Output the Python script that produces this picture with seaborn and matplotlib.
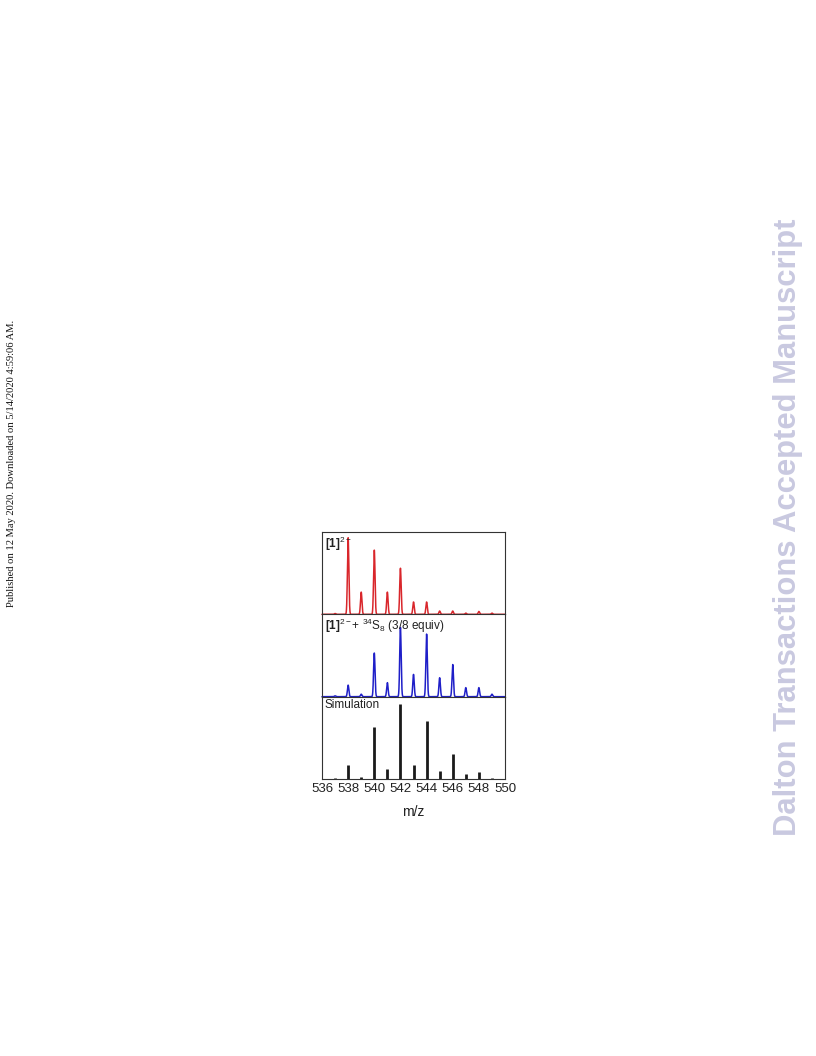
import numpy as np
import pandas as pd
import matplotlib
matplotlib.use('Agg')
import matplotlib.pyplot as plt
import seaborn as sns

# peak positions (m/z) and relative heights
mz = [537, 538, 539, 540, 541, 542, 543, 544, 545, 546, 547, 548, 549]
exp_red = [0.01, 0.93, 0.27, 0.78, 0.27, 0.56, 0.15, 0.15, 0.04, 0.04, 0.015, 0.035, 0.015]
exp_blue = [0.01, 0.14, 0.03, 0.53, 0.17, 0.84, 0.27, 0.76, 0.23, 0.39, 0.11, 0.11, 0.03]
sim_black = [0.01, 0.17, 0.03, 0.63, 0.12, 0.91, 0.17, 0.71, 0.10, 0.30, 0.06, 0.08, 0.01]

xticks = [536, 538, 540, 542, 544, 546, 548, 550]
labels = [r'$\mathbf{[1]}^{2-}$',
          r'$\mathbf{[1]}^{2-}$+ $^{34}$S$_8$ (3/8 equiv)',
          'Simulation']

sns.set_style('white')
plt.rcParams['font.family'] = ['Liberation Sans', 'DejaVu Sans']
plt.rcParams['mathtext.fontset'] = 'custom'
plt.rcParams['mathtext.rm'] = 'Liberation Sans'
plt.rcParams['mathtext.it'] = 'Liberation Sans:italic'
plt.rcParams['mathtext.bf'] = 'Liberation Sans:bold'


def profile(centers, heights, width=0.055):
    # build a line spectrum from the peak list (narrow peak shape)
    x = np.linspace(536, 550, 2801)
    y = np.zeros_like(x)
    for c, h in zip(centers, heights):
        y += h * np.exp(-0.5 * ((x - c) / width) ** 2)
    return pd.DataFrame({'mz': x, 'I': y})


fig, axes = plt.subplots(3, 1, figsize=(8.16, 10.56), dpi=100, sharex=True)
fig.subplots_adjust(left=0.3946, right=0.6189, top=0.4962, bottom=0.2623, hspace=0)

sns.lineplot(data=profile(mz, exp_red), x='mz', y='I', ax=axes[0],
             color='#d9262b', linewidth=1.1)
sns.lineplot(data=profile(mz, exp_blue), x='mz', y='I', ax=axes[1],
             color='#1f1fc8', linewidth=1.1)
axes[2].vlines(mz, 0, sim_black, color='#1a1a1a', linewidth=2.0)

for ax, lab in zip(axes, labels):
    ax.set_xlim(536, 550)
    ax.set_ylim(0, 1)
    ax.set_yticks([])
    ax.set_ylabel('')
    ax.set_xlabel('')
    ax.tick_params(length=0)
    for s in ax.spines.values():
        s.set_color('#333333')
        s.set_linewidth(0.8)
    for ln in ax.lines:
        ln.set_clip_on(False)
    ax.text(0.015, 0.97, lab, transform=ax.transAxes, ha='left', va='top',
            fontsize=8.5, color='#222222')

axes[2].set_xticks(xticks)
axes[2].set_xticklabels([str(t) for t in xticks], fontsize=9.5, color='#222222')
axes[2].tick_params(axis='x', pad=3)
axes[2].set_xlabel('m/z', fontsize=10, color='#222222', labelpad=7)

fig.text(0.0147, 0.561, 'Published on 12 May 2020. Downloaded on 5/14/2020 4:59:06 AM.',
         rotation=90, ha='center', va='center', fontsize=7.6,
         family='Liberation Serif', color='#111111')
fig.text(0.9657, 0.501, 'Dalton Transactions Accepted Manuscript',
         rotation=90, ha='center', va='center', fontsize=22.3,
         fontweight='bold', color='#c9c9e0')

fig.savefig('out.png', dpi=100, facecolor='white')
